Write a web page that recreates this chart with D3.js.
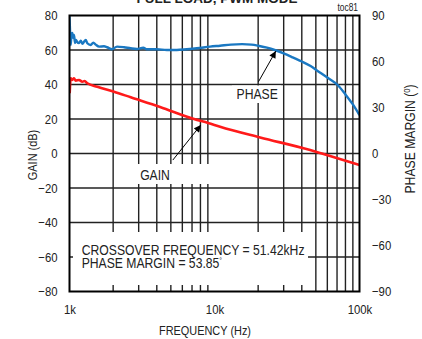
<!DOCTYPE html>
<html>
<head>
<meta charset="utf-8">
<script src="https://cdn.jsdelivr.net/npm/d3@7"></script>
<style>
  html, body { margin: 0; padding: 0; background: #fff; }
  svg { display: block; }
  text { font-family: "Liberation Sans", Arial, sans-serif; fill: #222; }
</style>
</head>
<body>
<script>
// ---------- data ----------
const gainTicks = [80, 60, 40, 20, 0, -20, -40, -60, -80];
const phaseTicks = [90, 60, 30, 0, -30, -60, -90];
const freqTicks = [1000, 10000, 100000];
const freqTickLabels = ["1k", "10k", "100k"];
const gridFreqs = [2000,3000,4000,5000,6000,7000,8000,9000,20000,30000,40000,50000,60000,70000,80000,90000];
const gridGains = [60, 40, 20, 0, -20, -40, -60];

// GAIN (dB) vs frequency (Hz)
const gainFreq = [1003, 1019, 1045, 1074, 1104, 1163, 1226, 1273, 1327, 1556, 2028, 2644, 4213, 7228, 9033, 10930, 20640, 45670, 55000, 100000];
const gainDb   = [34.9, 43.6, 42.6, 43.6, 42.2, 42.6, 41.6, 42.0, 40.7, 38.7, 35.8, 32.6, 27.0, 20.0, 17.7, 15.5, 9.3, 2.0, 0.0, -6.7];

// PHASE MARGIN (deg) vs frequency (Hz)
const phaseFreq = [1000, 1008, 1019, 1029, 1045, 1060, 1074, 1091, 1110, 1127, 1163, 1195, 1230, 1259, 1294, 1327, 1400, 1460, 1517, 1599, 1730, 1815, 1965, 2127, 2377, 2644, 2911, 3230, 3410, 3998, 4688, 5495, 6442, 7549, 9330, 10930, 13000, 15500, 18000, 20000, 23000, 26000, 30000, 35000, 40000, 46000, 51420, 60000, 71000, 80000, 90000, 100000];
const phaseDeg  = [89.5, 80.5, 70.8, 76.0, 78.6, 75.5, 77.3, 72.1, 74.0, 72.9, 72.0, 73.5, 71.6, 72.9, 74.0, 71.9, 70.8, 72.3, 71.0, 69.7, 69.9, 69.3, 68.0, 69.7, 69.3, 68.6, 68.2, 69.0, 68.0, 68.0, 67.5, 67.5, 68.0, 68.6, 69.7, 70.3, 71.0, 71.3, 71.0, 70.3, 69.0, 67.5, 65.3, 62.5, 60.0, 57.0, 53.85, 49.5, 44.5, 38.5, 32.0, 25.0];

const crossoverText = "CROSSOVER FREQUENCY = 51.42kHz";
const marginText = "PHASE MARGIN = 53.85";

// ---------- layout ----------
const W = 422, H = 339;
const L = 69.5, R = 359.5, T = 15.5, B = 291.5;
const NARROW = 0.84;

const svg = d3.select("body").append("svg").attr("width", W).attr("height", H);

function narrow(sel, k = NARROW) {
  sel.each(function () {
    const len = this.getComputedTextLength();
    d3.select(this).attr("textLength", len * k).attr("lengthAdjust", "spacingAndGlyphs");
  });
}

const x = d3.scaleLog().domain([1000, 100000]).range([L, R]);
const yG = d3.scaleLinear().domain([-80, 80]).range([B, T]);
const yP = d3.scaleLinear().domain([-90, 90]).range([B, T]);

// title (mostly cut off at top, as in the original)
svg.append("text").attr("x", 217).attr("y", 3).attr("text-anchor", "middle")
  .style("font-weight", "bold").style("font-size", "13.5px").text("FULL LOAD, PWM MODE");

svg.append("text").attr("x", 358).attr("y", 11).attr("text-anchor", "end")
  .style("font-size", "10px").text("toc81").call(narrow);

// grid
const grid = svg.append("g").attr("stroke", "#222").attr("stroke-width", 1.4);
grid.selectAll("line.v").data(gridFreqs).join("line").attr("class", "v")
  .attr("x1", d => x(d)).attr("x2", d => x(d)).attr("y1", T).attr("y2", B);
grid.selectAll("line.h").data(gridGains).join("line").attr("class", "h")
  .attr("x1", L).attr("x2", R).attr("y1", d => yG(d)).attr("y2", d => yG(d));

// white label boxes (cover the grid)
const boxes = [
  {x0: 120, x1: 211, y0: 164, y1: 184},   // GAIN
  {x0: 232, x1: 281, y0: 85.5, y1: 103},  // PHASE
  {x0: 73, x1: 308, y0: 232, y1: 285}     // crossover text
];
svg.append("g").selectAll("rect").data(boxes).join("rect")
  .attr("x", d => d.x0).attr("y", d => d.y0)
  .attr("width", d => d.x1 - d.x0).attr("height", d => d.y1 - d.y0)
  .attr("fill", "#fff");

// curves
const gainData = gainFreq.map((f, i) => [f, gainDb[i]]);
const phaseData = phaseFreq.map((f, i) => [f, phaseDeg[i]]);
svg.append("clipPath").attr("id", "clip").append("rect")
  .attr("x", L).attr("y", T).attr("width", R - L).attr("height", B - T);

svg.append("path").datum(phaseData)
  .attr("clip-path", "url(#clip)")
  .attr("fill", "none").attr("stroke", "#1a78c2").attr("stroke-width", 2.4)
  .attr("stroke-linejoin", "round")
  .attr("d", d3.line().x(d => x(d[0])).y(d => yP(d[1])).curve(d3.curveMonotoneX));

svg.append("path").datum(gainData)
  .attr("clip-path", "url(#clip)")
  .attr("fill", "none").attr("stroke", "#ff1a1a").attr("stroke-width", 2.6)
  .attr("stroke-linejoin", "round")
  .attr("d", d3.line().x(d => x(d[0])).y(d => yG(d[1])).curve(d3.curveMonotoneX));

// border
svg.append("rect").attr("x", L).attr("y", T).attr("width", R - L).attr("height", B - T)
  .attr("fill", "none").attr("stroke", "#000").attr("stroke-width", 2);

// axes
const fs = "13.5px";
const ax1 = svg.append("g").attr("transform", `translate(${L},0)`)
  .call(d3.axisLeft(yG).tickValues(gainTicks).tickSize(0).tickPadding(12).tickFormat(d3.format("d")));
const ax2 = svg.append("g").attr("transform", `translate(${R},0)`)
  .call(d3.axisRight(yP).tickValues(phaseTicks).tickSize(0).tickPadding(12.5).tickFormat(d3.format("d")));
const ax3 = svg.append("g").attr("transform", `translate(0,${B})`)
  .call(d3.axisBottom(x).tickValues(freqTicks).tickSize(0).tickPadding(12.5).tickFormat((d, i) => freqTickLabels[i]));
[ax1, ax2, ax3].forEach(a => {
  a.select(".domain").remove();
  a.selectAll("text").style("font-size", fs).attr("fill", "#222").call(narrow);
});
ax1.attr("font-family", null); ax2.attr("font-family", null); ax3.attr("font-family", null);

// axis titles
svg.append("text").attr("x", 205).attr("y", 335).attr("text-anchor", "middle")
  .style("font-size", "13px").text("FREQUENCY (Hz)").call(narrow);
svg.append("text").attr("transform", "translate(37,155) rotate(-90)").attr("text-anchor", "middle")
  .style("font-size", "13px").text("GAIN (dB)").call(narrow);
const pm = svg.append("text").attr("transform", `translate(415,139) rotate(-90) scale(${NARROW},1)`)
  .attr("text-anchor", "middle").style("font-size", "14.5px");
pm.append("tspan").text("PHASE MARGIN (");
pm.append("tspan").attr("dy", -5).style("font-size", "9px").text("0");
pm.append("tspan").attr("dy", 5).text(")");

// annotations
const defs = svg.append("defs");
defs.append("marker").attr("id", "ah").attr("viewBox", "0 0 10 10").attr("refX", 10).attr("refY", 5)
  .attr("markerWidth", 9).attr("markerHeight", 7).attr("markerUnits", "userSpaceOnUse").attr("orient", "auto")
  .append("path").attr("d", "M0,0L10,5L0,10Z").attr("fill", "#000");

const arrows = [
  {f0: 5160, g0: -3.8, f1: 8040, g1: 16.5},
  {f0: 20100, g0: 41.6, f1: 26500, g1: 59.4}
];
svg.append("g").selectAll("line").data(arrows).join("line")
  .attr("x1", d => x(d.f0)).attr("y1", d => yG(d.g0))
  .attr("x2", d => x(d.f1)).attr("y2", d => yG(d.g1))
  .attr("stroke", "#000").attr("stroke-width", 1).attr("marker-end", "url(#ah)");

const annFs = "14.5px";
svg.append("text").attr("x", x(3890)).attr("y", yG(-15.4)).attr("text-anchor", "middle")
  .style("font-size", annFs).text("GAIN").call(narrow);
svg.append("text").attr("x", x(19700)).attr("y", yG(31.6)).attr("text-anchor", "middle")
  .style("font-size", annFs).text("PHASE").call(narrow);
svg.append("text").attr("x", x(1214)).attr("y", yG(-58.8)).style("font-size", annFs)
  .text(crossoverText).call(narrow);
const m = svg.append("text")
  .attr("transform", `translate(${x(1214)},${yG(-66.5)}) scale(${NARROW},1)`).style("font-size", annFs);
m.append("tspan").text(marginText);
m.append("tspan").attr("dy", -5).style("font-size", "8px").text("°");
</script>
</body>
</html>
